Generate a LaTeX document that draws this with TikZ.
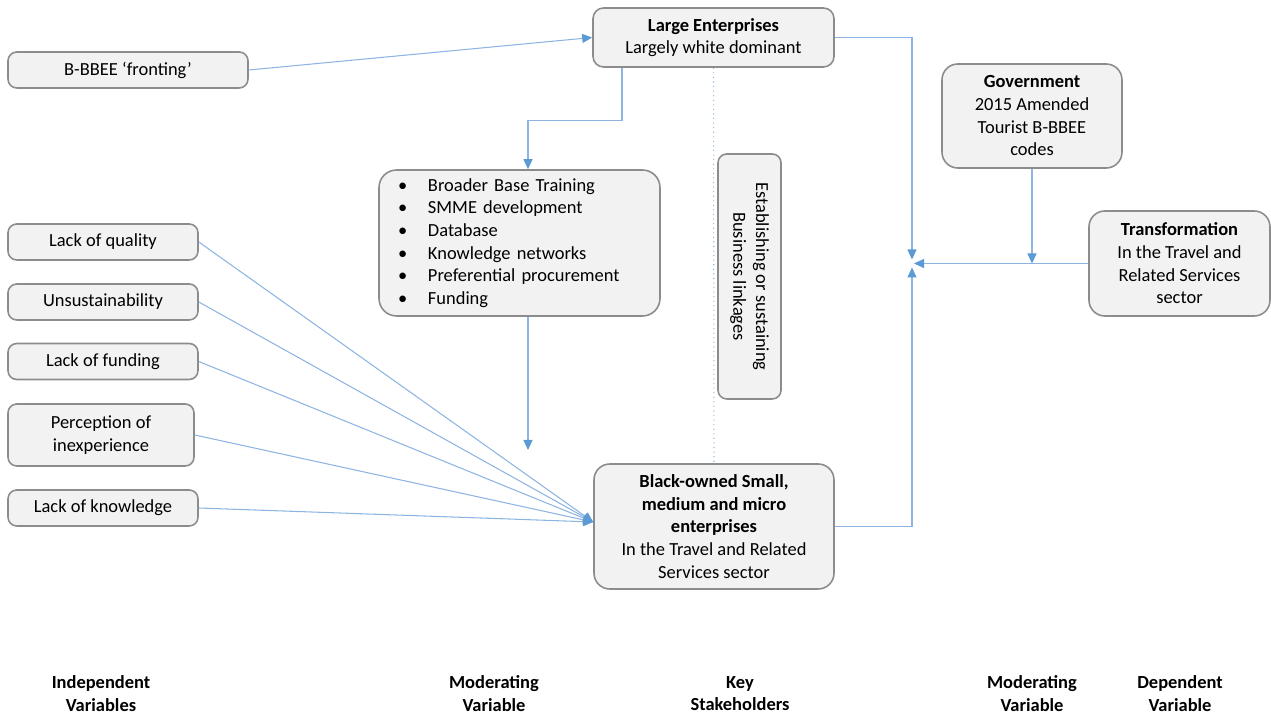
\documentclass[tikz,border=0pt]{standalone}
\usepackage{fontspec}
\setmainfont{Carlito}
\usetikzlibrary{arrows.meta, positioning}
\definecolor{cblue}{HTML}{5B9BD5}
\definecolor{cline}{HTML}{8DB4E2}
\definecolor{cgrey}{HTML}{8C8C8C}
\definecolor{cfill}{HTML}{F2F2F2}
\tikzset{
  every picture/.style={font=\fontsize{10.5}{12.9}\selectfont, line width=0.6pt},
  box/.style={draw=cgrey, fill=cfill, rounded corners=5pt, align=center, inner sep=3pt, line width=0.9pt},
  tip/.style={arrows={-{Triangle[length=2mm, width=1.8mm, color=cblue]}}, draw=cline, line width=0.6pt},
  linkline/.style={draw=cblue!70, dotted, line width=0.6pt},
  heading/.style={font=\fontsize{10.5}{12.9}\selectfont\bfseries, align=center},
}

\begin{document}
\begin{tikzpicture}
  \useasboundingbox (0,0) rectangle (25.42,-14.36);
  % stakeholders
  \node[box, rounded corners=6pt, minimum width=4.82cm, minimum height=1.18cm] (large) at (14.27,-0.75)
    {\textbf{Large Enterprises}\\Largely white dominant};
  \node[box, rounded corners=9pt, minimum width=4.80cm, minimum height=2.50cm] (smme) at (14.28,-10.53)
    {\textbf{Black-owned Small,}\\\textbf{medium and micro}\\\textbf{enterprises}\\In the Travel and Related\\Services sector};
  \node[box, rotate=-90, minimum width=4.90cm, minimum height=1.26cm] (link) at (14.99,-5.53)
    {Establishing or sustaining\\Business linkages};
  % moderating variables
  \node[box, rounded corners=10pt, minimum width=5.62cm, minimum height=2.92cm, align=left,
        text width=4.86cm, inner xsep=0.38cm] (list) at (10.39,-4.86)
    {\makebox[0.6cm][l]{\textbullet}Broader Base Training\\
     \makebox[0.6cm][l]{\textbullet}SMME development\\
     \makebox[0.6cm][l]{\textbullet}Database\\
     \makebox[0.6cm][l]{\textbullet}Knowledge networks\\
     \makebox[0.6cm][l]{\textbullet}Preferential procurement\\
     \makebox[0.6cm][l]{\textbullet}Funding};
  \node[box, rounded corners=9pt, minimum width=3.60cm, minimum height=2.08cm] (gov) at (20.64,-2.32)
    {\textbf{Government}\\2015 Amended\\Tourist B-BBEE\\codes};
  \node[box, rounded corners=9pt, minimum width=3.62cm, minimum height=2.10cm] (trans) at (23.59,-5.27)
    {\textbf{Transformation}\\In the Travel and\\Related Services\\sector};
  % independent variables
  \node[box, minimum width=4.80cm, minimum height=0.72cm] (front) at (2.56,-1.40) {B-BBEE ‘fronting’};
  \node[box, minimum width=3.80cm, minimum height=0.72cm] (qual) at (2.06,-4.84) {Lack of quality};
  \node[box, minimum width=3.80cm, minimum height=0.72cm] (unsus) at (2.06,-6.04) {Unsustainability};
  \node[box, minimum width=3.80cm, minimum height=0.72cm] (fund) at (2.06,-7.23) {Lack of funding};
  \node[box, minimum width=3.72cm, minimum height=1.24cm] (exper) at (2.02,-8.70) {Perception of\\inexperience};
  \node[box, minimum width=3.80cm, minimum height=0.72cm] (know) at (2.06,-10.16) {Lack of knowledge};
  % column headings
  \node[heading] (h1) at (2.02,-13.87) {Independent\\Variables};
  \node[heading] (h2) at (9.88,-13.87) {Moderating\\Variable};
  \node[heading] (h3) at (14.80,-13.87) {Key\\Stakeholders};
  \node[heading] (h4) at (20.64,-13.87) {Moderating\\Variable};
  \node[heading] (h5) at (23.60,-13.87) {Dependent\\Variable};
  % connectors
  \coordinate (hub) at (18.24,-5.27);
  \coordinate (drop) at (10.56,-9.0);
  \draw[tip] (front.east) -- (large.west);
  \draw[tip] ([xshift=-1.83cm]large.south) -- ++(0,-1.06) -| ([xshift=0.17cm]list.north);
  \draw[tip] (list.south -| drop) -- (drop);
  \draw[linkline] (large.south) -- (smme.north);
  \draw[tip] (large.east) -| ([yshift=0.08cm]hub);
  \draw[tip] (smme.east) -| ([yshift=-0.08cm]hub);
  \draw[tip] (trans.west) -- ([xshift=0.04cm]hub);
  \draw[tip] (gov.south) -- (gov.south |- hub);
  \foreach \n in {qual, unsus, fund, exper, know}
    \draw[tip] (\n.east) -- ([yshift=0.09cm]smme.west);
\end{tikzpicture}
\end{document}
